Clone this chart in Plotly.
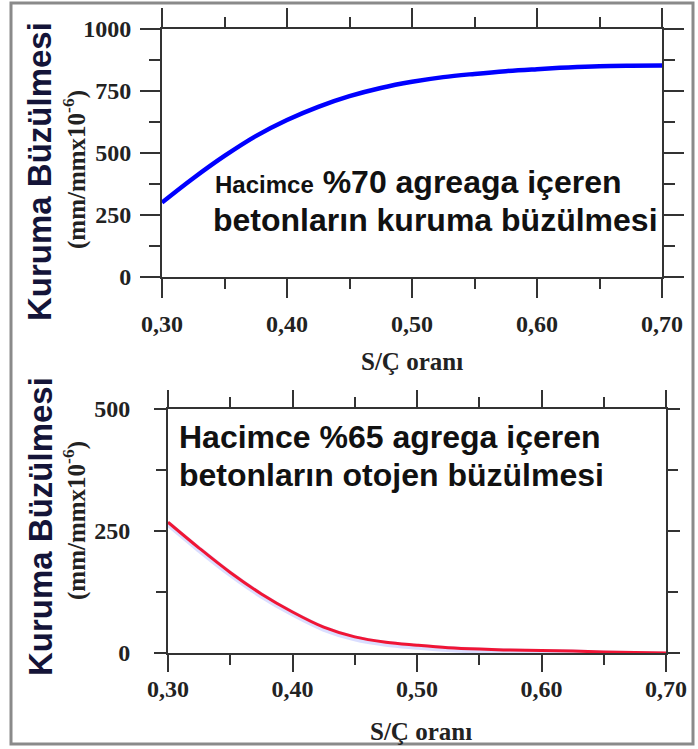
import plotly.graph_objects as go

W, H = 698, 749

# ---- data ----
sc_ratio = [0.300, 0.325, 0.350, 0.375, 0.400, 0.425, 0.450, 0.475, 0.500,
            0.525, 0.550, 0.575, 0.600, 0.625, 0.650, 0.675, 0.700]
kuruma_buzulmesi = [300, 398, 488, 568, 633, 686, 729, 762, 787,
                    806, 819, 830, 838, 845, 850, 852, 853]
otojen_buzulmesi = [268, 215, 165, 121, 84, 53, 33, 22, 16,
                    11, 8, 6, 5, 4, 2, 1, 0]

x_tick_vals = [0.30, 0.40, 0.50, 0.60, 0.70]
x_tick_text = ["0,30", "0,40", "0,50", "0,60", "0,70"]
x_minor_vals = [0.35, 0.45, 0.55, 0.65]

y1_tick_vals = [0, 250, 500, 750, 1000]
y1_tick_text = ["0", "250", "500", "750", "1000"]
y1_minor_vals = [125, 375, 625, 875]

y2_tick_vals = [0, 250, 500]
y2_tick_text = ["0", "250", "500"]
y2_minor_vals = [125, 375]

def px_x(p):
    return p / W

def px_y(p):
    return 1 - p / H

AX = "#333333"
tickfont = dict(family="Liberation Serif", size=24, color="#222222", weight="bold")

fig = go.Figure()

fig.add_trace(go.Scatter(x=sc_ratio, y=kuruma_buzulmesi, mode="lines",
                         line=dict(color="#0000ff", width=4.5, shape="spline"),
                         xaxis="x", yaxis="y", showlegend=False))
fig.add_trace(go.Scatter(x=sc_ratio, y=[v - 3 for v in otojen_buzulmesi], mode="lines",
                         line=dict(color="rgba(150,160,255,0.35)", width=6, shape="spline"),
                         xaxis="x2", yaxis="y2", showlegend=False))
fig.add_trace(go.Scatter(x=sc_ratio, y=otojen_buzulmesi, mode="lines",
                         line=dict(color="#f01535", width=3, shape="spline"),
                         xaxis="x2", yaxis="y2", showlegend=False))

def xaxis(domain, anchor, tl, standoff):
    return dict(domain=domain, anchor=anchor, range=[0.30, 0.70], automargin=False,
                tickmode="array", tickvals=x_tick_vals, ticktext=x_tick_text,
                ticks="outside", ticklen=tl, tickwidth=2, tickcolor=AX,
                minor=dict(tickmode="array", tickvals=x_minor_vals, ticks="outside",
                           ticklen=10, tickwidth=2, tickcolor=AX),
                showline=True, linewidth=2, linecolor=AX, mirror="ticks",
                showgrid=False, zeroline=False, tickfont=tickfont,
                ticklabelstandoff=standoff)

def yaxis(domain, anchor, rng, tv, tt, mv, tl, mtl, standoff):
    return dict(domain=domain, anchor=anchor, range=rng, automargin=False,
                tickmode="array", tickvals=tv, ticktext=tt,
                ticks="outside", ticklen=tl, tickwidth=2, tickcolor=AX,
                minor=dict(tickmode="array", tickvals=mv, ticks="outside",
                           ticklen=mtl, tickwidth=2, tickcolor=AX),
                showline=True, linewidth=2, linecolor=AX, mirror="ticks",
                showgrid=False, zeroline=False, tickfont=tickfont,
                ticklabelstandoff=standoff)

fig.update_layout(
    width=W, height=H,
    margin=dict(l=0, r=0, t=0, b=0, autoexpand=False),
    paper_bgcolor="white", plot_bgcolor="white",
    xaxis=xaxis([px_x(162), px_x(662)], "y", 19, 5),
    yaxis=yaxis([px_y(277), px_y(29)], "x", [0, 1000], y1_tick_vals, y1_tick_text,
                y1_minor_vals, 20, 11, 4),
    xaxis2=xaxis([px_x(168), px_x(666)], "y2", 17, -4),
    yaxis2=yaxis([px_y(653), px_y(409)], "x2", [0, 500], y2_tick_vals, y2_tick_text,
                 y2_minor_vals, 12, 10, 19),
)

ann = []
title_font = dict(family="Liberation Sans", size=33, color="#141438", weight="bold")
sub_font = dict(family="Liberation Serif", size=25, color="#222222", weight="bold")
inner_font = dict(family="Liberation Sans", size=32, color="#111111", weight="bold")

for cy, sy in [(172, 170), (527, 521)]:
    ann.append(dict(text="Kuruma Büzülmesi", x=px_x(40), y=px_y(cy), xref="paper", yref="paper",
                    textangle=-90, showarrow=False, font=title_font,
                    xanchor="center", yanchor="middle"))
    ann.append(dict(text="(mm/mmx10<sup>-6</sup>)", x=px_x(74), y=px_y(sy), xref="paper", yref="paper",
                    textangle=-90, showarrow=False, font=sub_font,
                    xanchor="center", yanchor="middle"))

for cx, cy in [(412, 361), (421, 731)]:
    ann.append(dict(text="S/Ç oranı", x=px_x(cx), y=px_y(cy), xref="paper", yref="paper",
                    showarrow=False, font=dict(family="Liberation Serif", size=25,
                                               color="#222222", weight="bold"),
                    xanchor="center", yanchor="middle"))

inner = [
    (213, 182, '<span style="font-size:24px">Hacimce</span> %70 agreaga içeren'),
    (211, 220, "betonların kuruma büzülmesi"),
    (177, 437, "Hacimce %65 agrega içeren"),
    (177, 475, "betonların otojen büzülmesi"),
]
for lx, ly, t in inner:
    ann.append(dict(text=t, x=px_x(lx), y=px_y(ly), xref="paper", yref="paper",
                    showarrow=False, font=inner_font, xanchor="left", yanchor="middle"))

fig.update_layout(annotations=ann)

fig.add_shape(type="rect", xref="paper", yref="paper",
              x0=px_x(11), x1=px_x(693), y0=px_y(744), y1=px_y(3),
              line=dict(color="#8a8a8a", width=3), fillcolor="rgba(0,0,0,0)")

fig.write_html("out.html")
